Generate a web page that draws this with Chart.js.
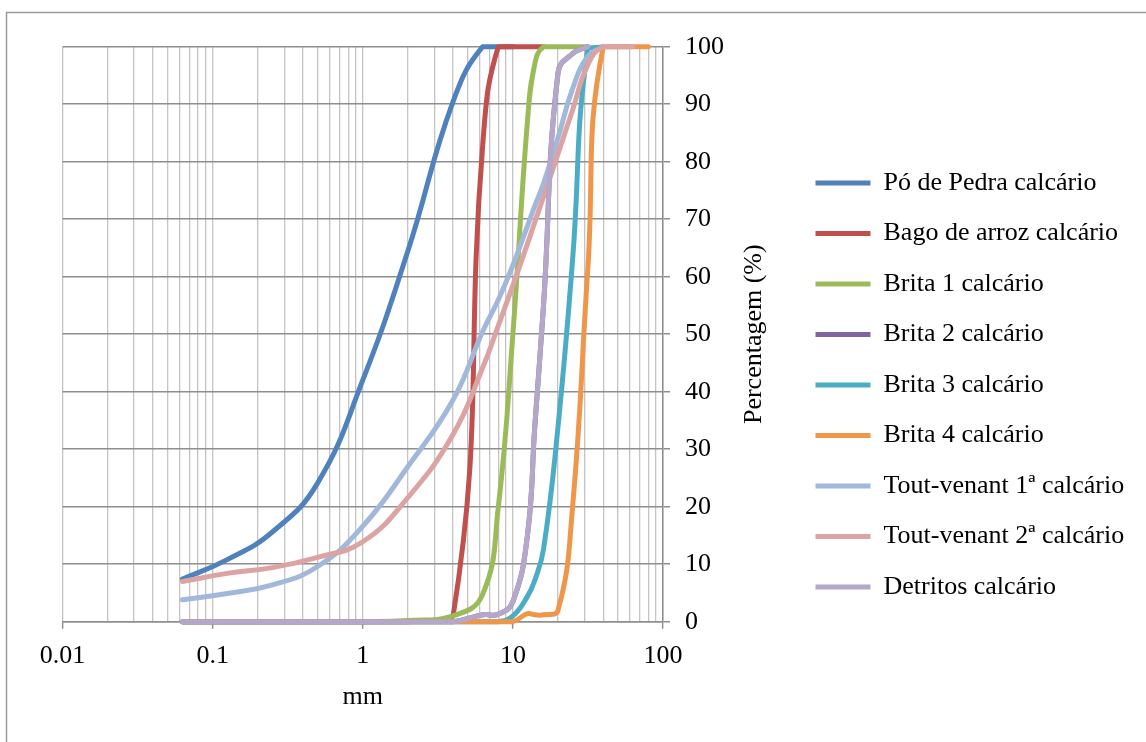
<!DOCTYPE html>
<html>
<head>
<meta charset="utf-8">
<title>Curvas granulométricas</title>
<script src="https://cdn.jsdelivr.net/npm/chart.js@4/dist/chart.umd.min.js"></script>
<style>
  html, body { margin: 0; padding: 0; background: #fff; }
  #wrap { width: 1146px; height: 742px; }
</style>
</head>
<body>
<div id="wrap"><canvas id="grading" width="1146" height="742"></canvas></div>
<script>
// sieve openings (mm) and % passing for each material
const sieveSizes = [0.063, 0.125, 0.25, 0.5, 1, 2, 4, 6.3, 8, 10, 12.5, 14, 16, 20, 25, 31.5, 40, 63, 80];

const poDePedra    = [7.4, 10.8, 15.6, 24.1, 42, 64.5, 90.5, 100, 100, 100, null, null, null, null, null, null, null, null, null];
const bagoDeArroz  = [0, 0, 0, 0, 0, 0, 1, 83, 100, 100, 100, 100, 100, null, null, null, null, null, null];
const brita1       = [0, 0, 0, 0, 0, 0.2, 1, 4.8, 20, 50, 87, 97, 100, 100, 100, 100, null, null, null];
const brita2       = [0, 0, 0, 0, 0, 0, 0, 1.2, 1.3, 3.5, 15, 34, 55, 95.5, 98.8, 100, null, null, null];
const brita3       = [0, 0, 0, 0, 0, 0, 0, 0, 0, 1, 4.4, 7.2, 12.6, 34, 63, 99.5, 100, null, null];
const brita4       = [0, 0, 0, 0, 0, 0, 0, 0, 0, 0, 1.4, 1.2, 1.2, 2, 20, 61, 100, 100, 100];
const toutVenant1  = [3.8, 4.9, 6.4, 9.6, 16.6, 27, 38.6, 50.5, 56, 62, 68.8, 72.3, 76.2, 84.2, 92.7, 98.3, 100, null, null];
const toutVenant2  = [7.0, 8.4, 9.4, 11.2, 13.9, 21.6, 32.6, 44.2, 51.5, 58.5, 65.7, 69.5, 73.9, 81.4, 89, 96.8, 100, 100, null];
const detritos     = [0, 0, 0, 0, 0, 0, 0, 1.2, 1.3, 3.5, 15, 34, 55, 95.5, 98.8, 100, null, null, null];

const seriesNames = [
  'Pó de Pedra calcário', 'Bago de arroz calcário', 'Brita 1 calcário',
  'Brita 2 calcário', 'Brita 3 calcário', 'Brita 4 calcário',
  'Tout-venant 1ª calcário', 'Tout-venant 2ª calcário', 'Detritos calcário'
];
const seriesValues = [poDePedra, bagoDeArroz, brita1, brita2, brita3, brita4, toutVenant1, toutVenant2, detritos];
const seriesColors = ['#4F81BD', '#C0504D', '#9BBB59', '#8064A2', '#4BACC6', '#F0964B', '#A2B8DB', '#DBA3A1', '#B4A7CA'];

const xDecades = [0.01, 0.1, 1, 10, 100];
const yTicks = [0, 10, 20, 30, 40, 50, 60, 70, 80, 90, 100];

// log gridlines: 1..9 in every decade
const xTicks = [];
xDecades.forEach((d, i) => {
  xTicks.push(d);
  if (i < xDecades.length - 1) {
    for (let k = 2; k <= 9; k++) xTicks.push(+(d * k).toPrecision(3));
  }
});

const FONT = '"Liberation Serif", "Times New Roman", serif';
Chart.defaults.font.family = FONT;
Chart.defaults.font.size = 26;
Chart.defaults.color = '#000';

const datasets = seriesNames.map((name, i) => ({
  label: name,
  data: sieveSizes
    .map((s, j) => ({ x: s, y: seriesValues[i][j] }))
    .filter(p => p.y !== null),
  borderColor: seriesColors[i],
  backgroundColor: seriesColors[i],
  borderWidth: 5,
  borderCapStyle: 'round',
  borderJoinStyle: 'round',
  pointRadius: 0,
  pointHoverRadius: 0,
  tension: 0.45,
  clip: false,
  fill: false,
  order: seriesNames.length - i   // later series on top, like the spreadsheet
}));

const framePlugin = {
  id: 'frame',
  beforeDraw(chart) {
    const { ctx } = chart;
    ctx.save();
    ctx.fillStyle = '#fff';
    ctx.fillRect(0, 0, chart.width, chart.height);
    ctx.strokeStyle = '#9a9a9a';
    ctx.lineWidth = 1.5;
    ctx.strokeRect(6.5, 12.5, chart.width + 10, chart.height + 10);
    ctx.restore();
  },
  afterDraw(chart) {
    // y title reads bottom-to-top on the right-hand axis
    const { ctx } = chart;
    const y = chart.scales.y;
    ctx.save();
    ctx.translate(y.left + 91, (y.top + y.bottom) / 2);
    ctx.rotate(-Math.PI / 2);
    ctx.font = '26px ' + FONT;
    ctx.fillStyle = '#000';
    ctx.textAlign = 'center';
    ctx.textBaseline = 'middle';
    ctx.fillText('Percentagem (%)', 0, 0);
    ctx.restore();
  }
};

new Chart(document.getElementById('grading'), {
  type: 'line',
  data: { datasets },
  plugins: [framePlugin],
  options: {
    responsive: false,
    animation: false,
    events: [],
    layout: { padding: { left: 62.5, top: 46.7, right: 15, bottom: 18.7 } },
    plugins: {
      tooltip: { enabled: false },
      legend: {
        position: 'right',
        align: 'center',
        maxWidth: 340,
        labels: {
          usePointStyle: true,
          pointStyle: 'line',
          pointStyleWidth: 55,
          padding: 24.5,
          color: '#000',
          font: { family: FONT, size: 26 },
          sort: (a, b) => a.datasetIndex - b.datasetIndex
        }
      }
    },
    scales: {
      x: {
        type: 'logarithmic',
        position: 'bottom',
        min: 0.01,
        max: 100,
        afterBuildTicks: scale => {
          scale.ticks = xTicks.map(v => ({ value: v, major: xDecades.includes(v) }));
        },
        afterFit: scale => { scale.height = 101.6; },
        ticks: {
          autoSkip: false,
          maxRotation: 0,
          minRotation: 0,
          padding: 12,
          callback: v => (xDecades.includes(v) ? String(v) : '')
        },
        grid: {
          color: '#c4c4c4',
          lineWidth: 1.3,
          tickLength: 7,
          tickColor: c => (c.tick && xDecades.includes(c.tick.value) ? '#8e8e8e' : 'rgba(0,0,0,0)'),
          tickWidth: 1.5
        },
        border: { color: '#8e8e8e', width: 1.5 },
        title: {
          display: true,
          text: 'mm',
          font: { family: FONT, size: 26 },
          padding: { top: 0, bottom: 10.7 }
        }
      },
      y: {
        type: 'linear',
        position: 'right',
        min: 0,
        max: 100,
        afterBuildTicks: scale => {
          scale.ticks = yTicks.map(v => ({ value: v }));
        },
        afterFit: scale => { scale.width = 128; },
        ticks: { padding: 15, callback: v => String(v) },
        grid: { color: '#8e8e8e', lineWidth: 1.5, tickLength: 7 },
        border: { color: '#8e8e8e', width: 1.5 }
      }
    }
  }
});
</script>
</body>
</html>
